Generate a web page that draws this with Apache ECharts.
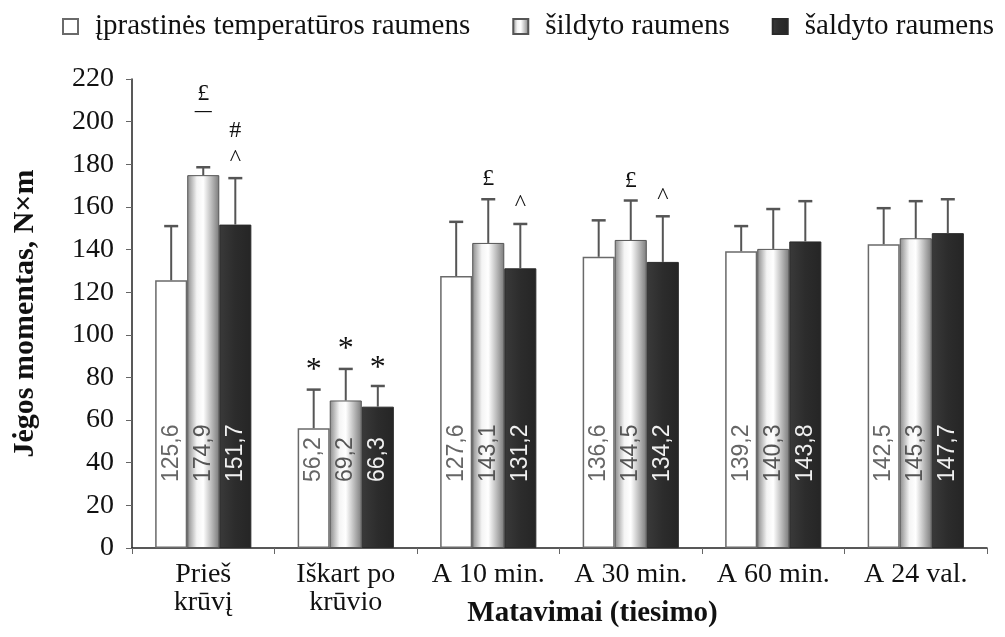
<!DOCTYPE html>
<html><head><meta charset="utf-8">
<script src="https://cdn.jsdelivr.net/npm/echarts@6/dist/echarts.min.js"></script>
<style>html,body{margin:0;padding:0;background:#fff}#c{width:1005px;height:637px}</style>
</head><body><div id="c"></div>
<script>
const categories = ['Prieš\nkrūvį', 'Iškart po\nkrūvio', 'A 10 min.', 'A 30 min.', 'A 60 min.', 'A 24 val.'];
const seriesNames = ['įprastinės temperatūros raumens', 'šildyto raumens', 'šaldyto raumens'];
const normalVals = [125.6, 56.2, 127.6, 136.6, 139.2, 142.5];
const heatedVals = [174.9, 69.2, 143.1, 144.5, 140.3, 145.3];
const cooledVals = [151.7, 66.3, 131.2, 134.2, 143.8, 147.7];
// upper end of error bars (mean + SD)
const normalErr = [151, 74.3, 153, 153.7, 151, 159.4];
const heatedErr = [178.6, 84, 163.6, 163, 159, 162.7];
const cooledErr = [173.5, 76, 152, 155.6, 162.7, 163.6];
// significance marks: [category index, series index, y value, symbol]
const marks = [
  [0, 1, 214, '£'], [0, 1, 204.5, '—'], [0, 2, 196.5, '#'], [0, 2, 185, '^'],
  [1, 0, 86, '*'], [1, 1, 96, '*'], [1, 2, 87, '*'],
  [2, 1, 174, '£'], [2, 2, 164, '^'],
  [3, 1, 173, '£'], [3, 2, 167, '^']
];
const yTicks = [0, 20, 40, 60, 80, 100, 120, 140, 160, 180, 200, 220];

const BAR_FRAC = 0.225;
const serif = 'Liberation Serif, Times New Roman, serif';
const sans = 'Liberation Sans, Arial, sans-serif';

const barStyles = [
  {color: '#ffffff', borderColor: '#6a6a6a', borderWidth: 1.5},
  {color: {type: 'linear', x: 0, y: 0, x2: 1, y2: 0, colorStops: [
      {offset: 0, color: '#8a8a8a'}, {offset: 0.3, color: '#f4f4f4'}, {offset: 0.5, color: '#ffffff'},
      {offset: 0.75, color: '#bdbdbd'}, {offset: 1, color: '#7a7a7a'}]},
   borderColor: '#555', borderWidth: 1},
  {color: {type: 'linear', x: 0, y: 0, x2: 1, y2: 0, colorStops: [
      {offset: 0, color: '#3a3a3a'}, {offset: 0.5, color: '#2c2c2c'}, {offset: 1, color: '#252525'}]},
   borderColor: '#2a2a2a', borderWidth: 1}
];
const labelColors = ['#666', '#555', '#f0f0f0'];
const valueSets = [normalVals, heatedVals, cooledVals];
const errSets = [normalErr, heatedErr, cooledErr];

const series = [];
valueSets.forEach((vals, s) => {
  series.push({
    name: seriesNames[s], type: 'bar', data: vals,
    barWidth: (BAR_FRAC * 100) + '%', barGap: '0%',
    itemStyle: barStyles[s],
    label: {show: true, position: 'insideBottom', distance: 66, rotate: 90,
      align: 'left', verticalAlign: 'middle',
      formatter: p => String(p.value).replace('.', ','),
      fontFamily: sans, fontSize: 23, color: labelColors[s]},
    z: 2
  });
});
errSets.forEach((errs, s) => {
  series.push({
    type: 'custom', silent: true, z: 3,
    data: errs.map((e, i) => [i, valueSets[s][i], e]),
    encode: {x: 0, y: [1, 2]},
    renderItem: (params, api) => {
      const band = api.size([1, 0])[0];
      const bw = band * BAR_FRAC;
      const x = api.coord([api.value(0), 0])[0] + (s - 1) * bw;
      const yb = api.coord([api.value(0), api.value(1)])[1];
      const yt = api.coord([api.value(0), api.value(2)])[1];
      const st = {stroke: '#555', lineWidth: 2};
      return {type: 'group', children: [
        {type: 'line', shape: {x1: x, y1: yb, x2: x, y2: yt}, style: st},
        {type: 'line', shape: {x1: x - 7, y1: yt, x2: x + 7, y2: yt}, style: {stroke: '#555', lineWidth: 2.5}}
      ]};
    }
  });
});
series.push({
  type: 'custom', silent: true, z: 4,
  data: marks.map(m => [m[0], m[1], m[2]]),
  encode: {x: 0, y: 2},
  renderItem: (params, api) => {
    const band = api.size([1, 0])[0];
    const bw = band * BAR_FRAC;
    const s = api.value(1);
    const x = api.coord([api.value(0), 0])[0] + (s - 1) * bw;
    const y = api.coord([api.value(0), api.value(2)])[1];
    const t = marks[params.dataIndex][3];
    let font = '24px ' + serif, dy = 2;
    if (t === '*') { font = '32px ' + serif; dy = 6; }
    if (t === '^') { font = '24px ' + serif; dy = 5; }
    if (t === '—') { font = 'bold 17px ' + serif; dy = 0; }
    return {type: 'text', x: x, y: y + dy, style: {text: t, fill: '#111',
      font: font, textAlign: 'center', textVerticalAlign: 'middle'}};
  }
});

const chart = echarts.init(document.getElementById('c'));
chart.setOption({
  animation: false,
  backgroundColor: '#fff',
  legend: {
    data: seriesNames, top: 12, left: 62, width: 940, padding: 0,
    itemWidth: 15, itemHeight: 15, itemGap: 42, icon: 'rect',
    textStyle: {fontFamily: serif, fontSize: 29, color: '#111', padding: [0, 0, 0, 12]}
  },
  grid: {left: 132, right: 18, top: 79, bottom: 89, outerBoundsMode: 'none'},
  xAxis: {
    type: 'category', data: categories,
    name: 'Matavimai (tiesimo)', nameLocation: 'middle', nameGap: 51, nameMoveOverlap: false,
    nameTextStyle: {fontFamily: serif, fontSize: 29, fontWeight: 'bold', color: '#111', padding: [0, 0, 0, 66]},
    axisLine: {lineStyle: {color: '#222', width: 1.5}},
    axisTick: {show: true, alignWithLabel: false, length: 6, lineStyle: {color: '#666'}},
    axisLabel: {interval: 0, fontFamily: serif, fontSize: 28, color: '#111', lineHeight: 28, margin: 13}
  },
  yAxis: {
    type: 'value', min: 0, max: 220, interval: 20,
    name: 'Jėgos momentas, N×m', nameLocation: 'middle', nameGap: 92, nameRotate: 90,
    nameTextStyle: {fontFamily: serif, fontSize: 30, fontWeight: 'bold', color: '#111'},
    axisLine: {show: true, lineStyle: {color: '#222', width: 1.5}},
    axisTick: {show: true, length: 6, lineStyle: {color: '#666'}},
    splitLine: {show: false},
    axisLabel: {fontFamily: serif, fontSize: 28, color: '#111', margin: 18,
      formatter: v => yTicks.includes(v) ? String(v) : ''}
  },
  series: series
});
</script></body></html>
